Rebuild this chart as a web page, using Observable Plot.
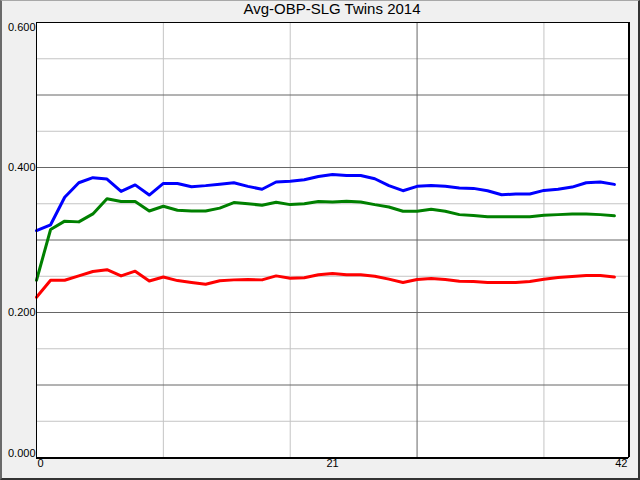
<!DOCTYPE html>
<html>
<head>
<meta charset="utf-8">
<script src="https://cdn.jsdelivr.net/npm/d3@7"></script>
<script src="https://cdn.jsdelivr.net/npm/@observablehq/plot@0.6"></script>
<style>
  html, body { margin: 0; padding: 0; background: #f0f0f0; }
  #wrap { position: relative; width: 640px; height: 480px; background: #f0f0f0; overflow: hidden; }
  #title { height: 21px; line-height: 24px; font: 15px "Liberation Sans", Arial, sans-serif; color: #000;
           padding-left: 36px; width: 592px; text-align: center; white-space: nowrap; }
  #edge { position: absolute; left: 0; top: 0; width: 640px; height: 480px; box-sizing: border-box;
          border-left: 2px solid #6a6a6a; border-top: 1px solid #a8a8a8;
          border-right: 2px solid #333; border-bottom: 2px solid #333; pointer-events: none; }
  svg { display: block; }
</style>
</head>
<body>
<div id="wrap">
  <div id="title">Avg-OBP-SLG Twins 2014</div>
  <div id="chart"></div>
  <div id="edge"></div>
</div>
<script>
const titleText = "Avg-OBP-SLG Twins 2014";
const games = d3.range(42);
const slg = [0.313,0.321,0.359,0.379,0.386,0.384,0.367,0.376,0.362,0.378,
             0.378,0.3735,0.375,0.377,0.379,0.374,0.370,0.380,0.381,0.383,
             0.3877,0.3904,0.389,0.389,0.3845,0.375,0.368,0.374,0.3753,0.374,
             0.3717,0.3712,0.368,0.3625,0.3634,0.3634,0.3684,0.370,0.373,0.379,0.380,0.3767];
const obp = [0.2445,0.3145,0.326,0.325,0.336,0.357,0.353,0.353,0.340,0.3465,
             0.341,0.340,0.340,0.344,0.3516,0.350,0.348,0.352,0.3488,0.350,
             0.353,0.3525,0.3534,0.3525,0.3488,0.3456,0.3397,0.3397,0.3424,0.3397,
             0.335,0.3337,0.332,0.332,0.332,0.332,0.334,0.335,0.336,0.336,0.335,0.3333];
const avg = [0.221,0.2445,0.2445,0.2505,0.2565,0.259,0.2505,0.257,0.2435,0.249,
             0.244,0.2414,0.239,0.2437,0.245,0.2455,0.245,0.2505,0.2473,0.248,
             0.252,0.2537,0.252,0.252,0.25,0.246,0.2414,0.2455,0.247,0.2455,
             0.243,0.2428,0.2414,0.2414,0.2414,0.2428,0.246,0.2483,0.2497,0.251,0.251,0.249];
const yMajor = [0.1, 0.2, 0.3, 0.4, 0.5];
const yMinor = [0.05, 0.15, 0.25, 0.35, 0.45, 0.55];
const xLight = [9, 18, 36];
const xDark = [27];
const yLabelsMid = [0.2, 0.4];
const yLabelTop = [0.6];
const yLabelBottom = [0];
const xLabels = [0, 21, 42];
const xMax = [42];
const yMin = [0];

document.getElementById("title").textContent = titleText;

const seriesA = games.map(i => ({g: i, v: avg[i]}));
const seriesO = games.map(i => ({g: i, v: obp[i]}));
const seriesS = games.map(i => ({g: i, v: slg[i]}));

const chart = Plot.plot({
  width: 640,
  height: 459,
  marginLeft: 36,
  marginRight: 12,
  marginTop: 1,
  marginBottom: 23,
  x: {domain: [0, 42], axis: null},
  y: {domain: [0, 0.6], axis: null},
  style: {background: "transparent", fontFamily: "'Liberation Sans', Arial, sans-serif", fontSize: "11px", color: "#000", overflow: "visible"},
  marks: [
    Plot.frame({fill: "white", stroke: null}),
    Plot.ruleY(yMinor, {stroke: "#c4c4c4", strokeWidth: 1, strokeOpacity: 1}),
    Plot.ruleX(xLight, {stroke: "#c4c4c4", strokeWidth: 1, strokeOpacity: 1}),
    Plot.ruleY(yMajor, {stroke: "#666666", strokeWidth: 1, strokeOpacity: 1}),
    Plot.ruleX(xDark, {stroke: "#666666", strokeWidth: 1, strokeOpacity: 1}),
    Plot.line(seriesA, {x: "g", y: "v", stroke: "#ff0000", strokeWidth: 3, strokeLinejoin: "round"}),
    Plot.line(seriesO, {x: "g", y: "v", stroke: "#008000", strokeWidth: 3, strokeLinejoin: "round"}),
    Plot.line(seriesS, {x: "g", y: "v", stroke: "#0000ff", strokeWidth: 3, strokeLinejoin: "round"}),
    Plot.frame({stroke: "#000", strokeWidth: 1}),
    Plot.ruleX(xMax, {stroke: "#000", strokeWidth: 1, dx: 1}),
    Plot.ruleY(yMin, {stroke: "#000", strokeWidth: 1, dy: 1}),
    Plot.text(yLabelsMid, {y: d => d, text: d => d.toFixed(3), frameAnchor: "left", textAnchor: "end", dx: -1, fill: "#000"}),
    Plot.text(yLabelTop, {y: d => d, text: d => d.toFixed(3), frameAnchor: "left", textAnchor: "end", dx: -1, dy: 5, fill: "#000"}),
    Plot.text(yLabelBottom, {y: d => d, text: d => d.toFixed(3), frameAnchor: "left", textAnchor: "end", dx: -1, dy: -4, fill: "#000"}),
    Plot.text(xLabels.slice(0,1), {x: d => d, text: d => String(d), frameAnchor: "bottom", textAnchor: "start", dy: 9, dx: 1, fill: "#000"}),
    Plot.text(xLabels.slice(1,2), {x: d => d, text: d => String(d), frameAnchor: "bottom", textAnchor: "middle", dy: 9, fill: "#000"}),
    Plot.text(xLabels.slice(2,3), {x: d => d, text: d => String(d), frameAnchor: "bottom", textAnchor: "end", dy: 9, dx: -1, fill: "#000"})
  ]
});
document.getElementById("chart").appendChild(chart);
</script>
</body>
</html>
